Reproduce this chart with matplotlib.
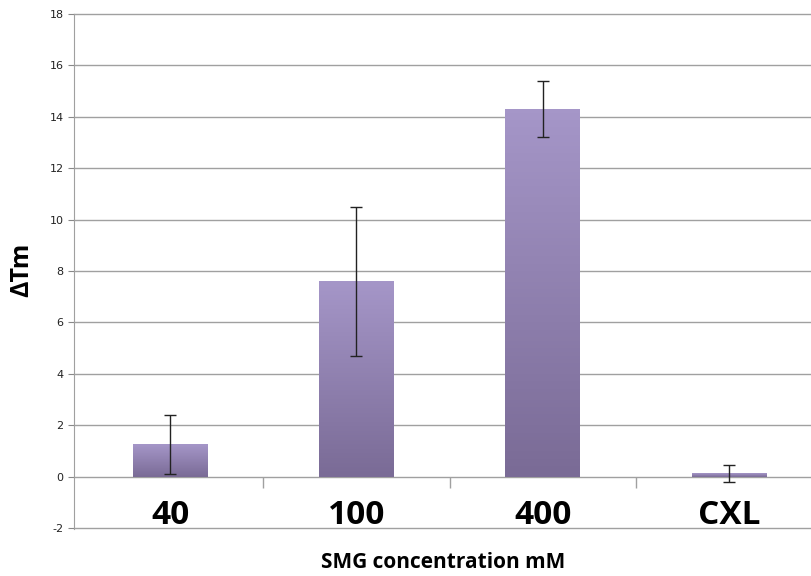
import numpy as np
import matplotlib.pyplot as plt
from matplotlib.colors import LinearSegmentedColormap

plt.rcParams['axes.unicode_minus'] = False

# values
categories = ['40', '100', '400', 'CXL']
dtm = [1.25, 7.6, 14.3, 0.12]
err = [1.15, 2.9, 1.1, 0.32]
yticks = list(range(-2, 19, 2))

fig = plt.figure(figsize=(8.12, 5.76), dpi=100)
ax = fig.add_axes([74/812, 47/576, 1 - 74/812, (529-14)/576])

x = np.arange(len(categories))
w = 0.40
grad = LinearSegmentedColormap.from_list('g', ['#7a6b96', '#a596c8'])
for xi, v in zip(x, dtm):
    # vertical gradient bar like the excel fill
    ax.imshow(np.linspace(0, 1, 100).reshape(-1, 1), cmap=grad, aspect='auto',
              origin='lower', extent=(xi - w/2, xi + w/2, 0, v), zorder=2)
ax.errorbar(x, dtm, yerr=err, fmt='none', ecolor='#222222', elinewidth=1,
            capsize=4, capthick=1, zorder=3)

ax.set_xlim(-0.516, 3.446)
ax.set_ylim(-2.04, 18.0)
ax.set_yticks(yticks)
ax.tick_params(axis='y', labelsize=8, colors='#888888', length=4, width=0.8)
for lab in ax.get_yticklabels():
    lab.set_color('#222222')
ax.yaxis.grid(True, color='#a0a0a0', linewidth=1)
for gl in ax.get_ygridlines():
    gl.set_clip_on(False)
ax.set_axisbelow(True)
ax.set_xticks([])
for s in ['top', 'right', 'bottom']:
    ax.spines[s].set_visible(False)
ax.spines['left'].set_color('#a0a0a0')

# small category separators under the zero line
ax.vlines(x[:-1] + 0.5, -0.43, 0, color='#a0a0a0', linewidth=1)

for xi, c in zip(x, categories):
    ax.text(xi, -1.5, c, ha='center', va='center', fontsize=24,
            fontweight='bold', family='Open Sans')

fig.text(443/812, 1 - 563/576, 'SMG concentration mM',
         ha='center', va='center', fontsize=15, fontweight='bold',
         family='Open Sans')
fig.text(22/812, 1 - 270/576, 'ΔTm', ha='center', va='center', rotation=90,
         fontsize=18, fontweight='bold', family='Open Sans')

fig.savefig('out.png', dpi=100)
